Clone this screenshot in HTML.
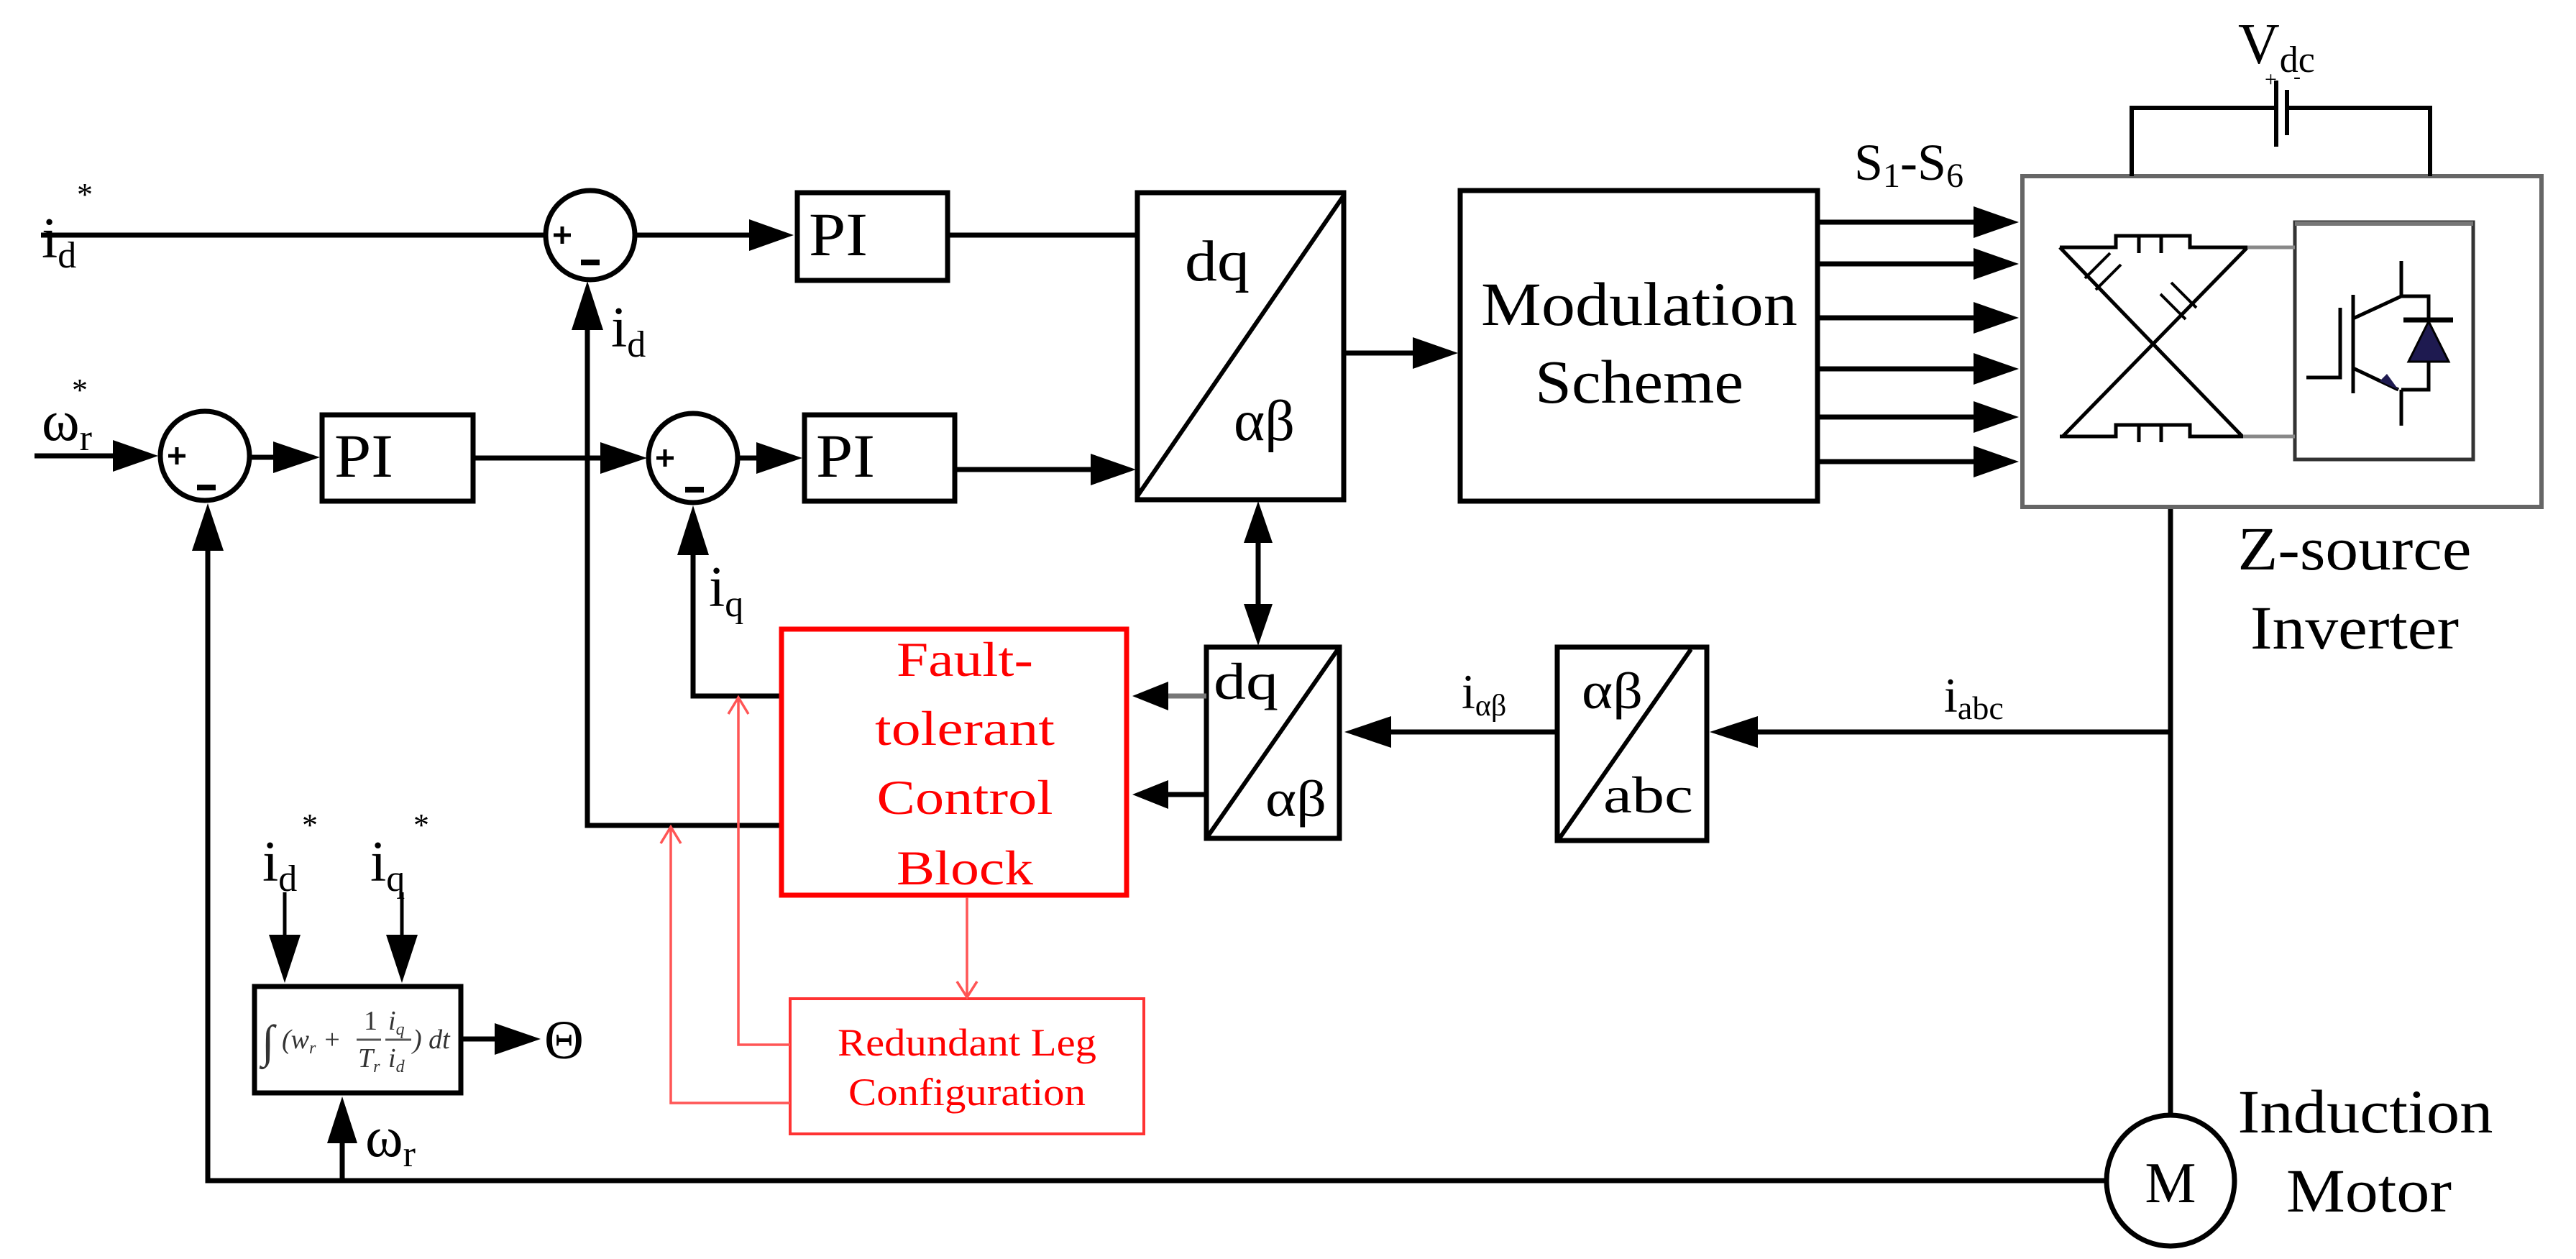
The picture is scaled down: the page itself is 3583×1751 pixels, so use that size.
<!DOCTYPE html>
<html><head><meta charset="utf-8"><style>
html,body{margin:0;padding:0;background:#fff;}
svg{display:block;}
text{font-family:"Liberation Serif",serif;}
</style></head><body>
<svg width="3583" height="1751" viewBox="0 0 3583 1751" xmlns="http://www.w3.org/2000/svg">
<g stroke="#000" stroke-width="7" fill="none">
  <line x1="57" y1="327" x2="759" y2="327"/>
  <circle cx="821" cy="327" r="62"/>
  <line x1="883" y1="327" x2="1050" y2="327"/>
  <rect x="1109" y="268" width="209" height="122"/>
  <line x1="1318" y1="327" x2="1582" y2="327"/>
  <rect x="1582" y="268" width="287" height="427"/>
  <line x1="1582" y1="690" x2="1869" y2="272" stroke-width="6"/>
  <line x1="48" y1="634" x2="165" y2="634"/>
  <circle cx="285" cy="634" r="62"/>
  <line x1="347" y1="636" x2="390" y2="636"/>
  <rect x="448" y="577" width="210" height="120"/>
  <line x1="658" y1="637" x2="845" y2="637"/>
  <circle cx="964" cy="637" r="62"/>
  <line x1="1026" y1="637" x2="1060" y2="637"/>
  <rect x="1119" y="577" width="209" height="120"/>
  <line x1="1328" y1="653" x2="1525" y2="653"/>
  <polyline points="1087,1148 817,1148 817,455"/>
  <polyline points="1087,968 964,968 964,768"/>
  <polyline points="2929,1642 289,1642 289,762"/>
  <line x1="476" y1="1642" x2="476" y2="1575"/>
  <line x1="1750" y1="745" x2="1750" y2="850"/>
  <rect x="1678" y="900" width="185" height="266"/>
  <line x1="1680" y1="1163" x2="1861" y2="903" stroke-width="6"/>
  <line x1="1678" y1="968" x2="1625" y2="968" stroke="#777"/>
  <line x1="1678" y1="1105" x2="1625" y2="1105"/>
  <rect x="2166" y="900" width="208" height="269"/>
  <line x1="2169" y1="1166" x2="2352" y2="903" stroke-width="6"/>
  <line x1="2166" y1="1018" x2="1925" y2="1018"/>
  <line x1="3019" y1="1018" x2="2435" y2="1018"/>
  <line x1="3019" y1="706" x2="3019" y2="1552"/>
  <ellipse cx="3019" cy="1642" rx="89" ry="91"/>
  <line x1="1869" y1="491" x2="1970" y2="491"/>
  <rect x="2031" y="265" width="497" height="432"/>
  <line x1="2528" y1="309" x2="2750" y2="309"/>
  <line x1="2528" y1="367" x2="2750" y2="367"/>
  <line x1="2528" y1="442" x2="2750" y2="442"/>
  <line x1="2528" y1="513" x2="2750" y2="513"/>
  <line x1="2528" y1="580" x2="2750" y2="580"/>
  <line x1="2528" y1="642" x2="2750" y2="642"/>
  <rect x="354" y="1372" width="287" height="148"/>
  <line x1="641" y1="1445" x2="690" y2="1445"/>
  <line x1="396" y1="1241" x2="396" y2="1310" stroke-width="5"/>
  <line x1="559" y1="1241" x2="559" y2="1310" stroke-width="5"/>
</g>
<!-- sum signs -->
<g stroke="#000" stroke-width="5">
  <line x1="770" y1="327" x2="794" y2="327"/><line x1="782" y1="315" x2="782" y2="339"/>
  <line x1="808" y1="365" x2="834" y2="365" stroke-width="8"/>
  <line x1="234" y1="634" x2="258" y2="634"/><line x1="246" y1="622" x2="246" y2="646"/>
  <line x1="274" y1="678" x2="300" y2="678" stroke-width="8"/>
  <line x1="913" y1="637" x2="937" y2="637"/><line x1="925" y1="625" x2="925" y2="649"/>
  <line x1="953" y1="681" x2="979" y2="681" stroke-width="8"/>
</g>
<g fill="#000">
  <polygon points="1042,305 1104,327 1042,349"/>
  <polygon points="157,612 220,634 157,656"/>
  <polygon points="380,614 445,636 380,658"/>
  <polygon points="835,615 900,637 835,659"/>
  <polygon points="1052,615 1116,637 1052,659"/>
  <polygon points="1517,631 1580,653 1517,675"/>
  <polygon points="795,459 817,391 839,459"/>
  <polygon points="942,772 964,703 986,772"/>
  <polygon points="267,766 289,700 311,766"/>
  <polygon points="1730,755 1750,697 1770,755"/>
  <polygon points="1730,840 1750,898 1770,840"/>
  <polygon points="1625,948 1575,968 1625,988"/>
  <polygon points="1625,1085 1575,1105 1625,1125"/>
  <polygon points="1935,996 1870,1018 1935,1040"/>
  <polygon points="2445,996 2378,1018 2445,1040"/>
  <polygon points="1965,469 2028,491 1965,513"/>
  <polygon points="2745,287 2808,309 2745,331"/>
  <polygon points="2745,345 2808,367 2745,389"/>
  <polygon points="2745,420 2808,442 2745,464"/>
  <polygon points="2745,491 2808,513 2745,535"/>
  <polygon points="2745,558 2808,580 2745,602"/>
  <polygon points="2745,620 2808,642 2745,664"/>
  <polygon points="374,1300 396,1367 418,1300"/>
  <polygon points="537,1300 559,1367 581,1300"/>
  <polygon points="688,1423 752,1445 688,1467"/>
  <polygon points="455,1590 476,1525 497,1590"/>
</g>
<rect x="1087" y="875" width="480" height="370" fill="none" stroke="#f00" stroke-width="7"/>
<rect x="1099" y="1389" width="492" height="188" fill="none" stroke="#f33" stroke-width="4"/>
<g stroke="#f55" stroke-width="3.5" fill="none">
  <line x1="1345" y1="1248" x2="1345" y2="1386"/>
  <polyline points="1331,1365 1345,1387 1359,1365"/>
  <polyline points="1099,1453 1027,1453 1027,970"/>
  <polyline points="1013,993 1027,970 1041,993"/>
  <polyline points="1099,1534 933,1534 933,1150"/>
  <polyline points="919,1173 933,1150 947,1173"/>
</g>
<g fill="#f00" text-anchor="middle" font-size="68">
  <text x="1342" y="940" textLength="190" lengthAdjust="spacingAndGlyphs">Fault-</text>
  <text x="1342" y="1036" textLength="250" lengthAdjust="spacingAndGlyphs">tolerant</text>
  <text x="1342" y="1132" textLength="245" lengthAdjust="spacingAndGlyphs">Control</text>
  <text x="1342" y="1230" textLength="190" lengthAdjust="spacingAndGlyphs">Block</text>
  <text x="1345" y="1468" font-size="54" textLength="360" lengthAdjust="spacingAndGlyphs">Redundant Leg</text>
  <text x="1345" y="1537" font-size="54" textLength="330" lengthAdjust="spacingAndGlyphs">Configuration</text>
</g>
<rect x="2813" y="245" width="722" height="460" fill="none" stroke="#666" stroke-width="6"/>
<g stroke="#000" stroke-width="6" fill="none">
  <polyline points="2965,245 2965,150 3166,150"/>
  <polyline points="3181,150 3380,150 3380,245"/>
  <line x1="3166" y1="112" x2="3166" y2="204"/>
  <line x1="3181" y1="125" x2="3181" y2="188"/>
</g>
<rect x="3192" y="309" width="248" height="330" fill="none" stroke="#333" stroke-width="5"/>
<line x1="3192" y1="311" x2="3440" y2="311" stroke="#777" stroke-width="6"/>
<g stroke="#000" stroke-width="5" fill="none">
  <polyline points="2865,344 2943,344 2943,328 3046,328 3046,344 3126,344"/>
  <polyline points="2865,607 2943,607 2943,591 3046,591 3046,607 3120,607"/>
  <line x1="2865" y1="344" x2="3119" y2="607"/>
  <line x1="3126" y1="344" x2="2869" y2="607"/>
  <line x1="2975" y1="328" x2="2975" y2="352"/><line x1="3006" y1="328" x2="3006" y2="352"/>
  <line x1="2975" y1="591" x2="2975" y2="615"/><line x1="3006" y1="591" x2="3006" y2="615"/>
  <line x1="3340" y1="363" x2="3340" y2="412"/>
  <polyline points="3340,412 3378,412 3378,542 3340,542"/>
  <line x1="3340" y1="542" x2="3340" y2="592"/>
  <line x1="3273" y1="410" x2="3273" y2="547"/>
  <polyline points="3208,525 3255,525 3255,428"/>
  <line x1="3273" y1="443" x2="3340" y2="412"/>
  <line x1="3273" y1="512" x2="3336" y2="542"/>
  <line x1="3343" y1="445" x2="3412" y2="445" stroke-width="7"/>
</g>
<g stroke="#888" stroke-width="5"><line x1="3126" y1="344" x2="3192" y2="344"/><line x1="3120" y1="607" x2="3192" y2="607"/></g>
<g stroke="#000" stroke-width="4">
  <line x1="2900" y1="387" x2="2935" y2="352"/><line x1="2915" y1="403" x2="2950" y2="368"/>
  <line x1="3020" y1="393" x2="3055" y2="428"/><line x1="3005" y1="409" x2="3040" y2="444"/>
</g>
<polygon points="3378,447 3350,503 3406,503" fill="#1e1a50" stroke="#000" stroke-width="3"/>
<polygon points="3336,542 3310,530 3320,520" fill="#1e1a50"/>
<g fill="#000" font-size="80">
  <text x="58" y="358">i<tspan font-size="52" dy="14">d</tspan></text>
  <text x="107" y="285" font-size="44">*</text>
  <text x="850" y="482">i<tspan font-size="52" dy="14">d</tspan></text>
  <text x="58" y="612">ω<tspan font-size="52" dy="14">r</tspan></text>
  <text x="100" y="557" font-size="44">*</text>
  <text x="986" y="843">i<tspan font-size="52" dy="14">q</tspan></text>
  <text x="1125" y="355" font-size="86" textLength="82" lengthAdjust="spacingAndGlyphs">PI</text>
  <text x="465" y="663" font-size="86" textLength="82" lengthAdjust="spacingAndGlyphs">PI</text>
  <text x="1135" y="663" font-size="86" textLength="82" lengthAdjust="spacingAndGlyphs">PI</text>
  <text x="1648" y="390" textLength="90" lengthAdjust="spacingAndGlyphs">dq</text>
  <text x="1716" y="612" textLength="85" lengthAdjust="spacingAndGlyphs">αβ</text>
  <text x="1688" y="972" font-size="72" textLength="90" lengthAdjust="spacingAndGlyphs">dq</text>
  <text x="1760" y="1135" font-size="72" textLength="85" lengthAdjust="spacingAndGlyphs">αβ</text>
  <text x="2200" y="985" font-size="72" textLength="85" lengthAdjust="spacingAndGlyphs">αβ</text>
  <text x="2230" y="1130" font-size="72" textLength="125" lengthAdjust="spacingAndGlyphs">abc</text>
  <text x="2033" y="985" font-size="68">i<tspan font-size="42" dy="10">αβ</tspan></text>
  <text x="2704" y="990" font-size="68">i<tspan font-size="46" dy="10">abc</tspan></text>
  <text x="2280" y="452" font-size="86" text-anchor="middle" textLength="440" lengthAdjust="spacingAndGlyphs">Modulation</text>
  <text x="2280" y="560" font-size="86" text-anchor="middle" textLength="290" lengthAdjust="spacingAndGlyphs">Scheme</text>
  <text x="2579" y="250" font-size="72">S<tspan font-size="48" dy="10">1</tspan><tspan dy="-10">-S</tspan><tspan font-size="48" dy="10">6</tspan></text>
  <text x="3113" y="88" font-size="80">V<tspan font-size="52" dy="12">dc</tspan></text>
  <text x="3150" y="120" font-size="30">+</text>
  <text x="3190" y="116" font-size="30">-</text>
  <text x="3275" y="792" font-size="86" text-anchor="middle" textLength="325" lengthAdjust="spacingAndGlyphs">Z-source</text>
  <text x="3275" y="902" font-size="86" text-anchor="middle" textLength="290" lengthAdjust="spacingAndGlyphs">Inverter</text>
  <text x="3290" y="1575" font-size="86" text-anchor="middle" textLength="355" lengthAdjust="spacingAndGlyphs">Induction</text>
  <text x="3295" y="1685" font-size="86" text-anchor="middle" textLength="230" lengthAdjust="spacingAndGlyphs">Motor</text>
  <text x="3019" y="1672" font-size="80" text-anchor="middle">M</text>
  <text x="757" y="1472" font-size="76">Θ</text>
  <text x="365" y="1225">i<tspan font-size="52" dy="14">d</tspan></text>
  <text x="420" y="1162" font-size="44">*</text>
  <text x="515" y="1225">i<tspan font-size="52" dy="14">q</tspan></text>
  <text x="575" y="1162" font-size="44">*</text>
  <text x="508" y="1608">ω<tspan font-size="52" dy="14">r</tspan></text>
</g>
<g fill="#333" font-style="italic" font-size="38">
  <text x="364" y="1470" font-size="64" font-style="normal">∫</text>
  <text x="392" y="1458">(w<tspan font-size="24" dy="7">r</tspan><tspan dy="-7"> +</tspan></text>
  <text x="506" y="1432" font-style="normal">1</text>
  <line x1="496" y1="1446" x2="530" y2="1446" stroke="#555" stroke-width="3"/>
  <text x="498" y="1484">T<tspan font-size="24" dy="7">r</tspan></text>
  <text x="540" y="1432">i<tspan font-size="24" dy="7">q</tspan></text>
  <line x1="536" y1="1446" x2="572" y2="1446" stroke="#555" stroke-width="3"/>
  <text x="540" y="1484">i<tspan font-size="24" dy="7">d</tspan></text>
  <text x="574" y="1458">) dt</text>
</g>
</svg>
</body></html>
